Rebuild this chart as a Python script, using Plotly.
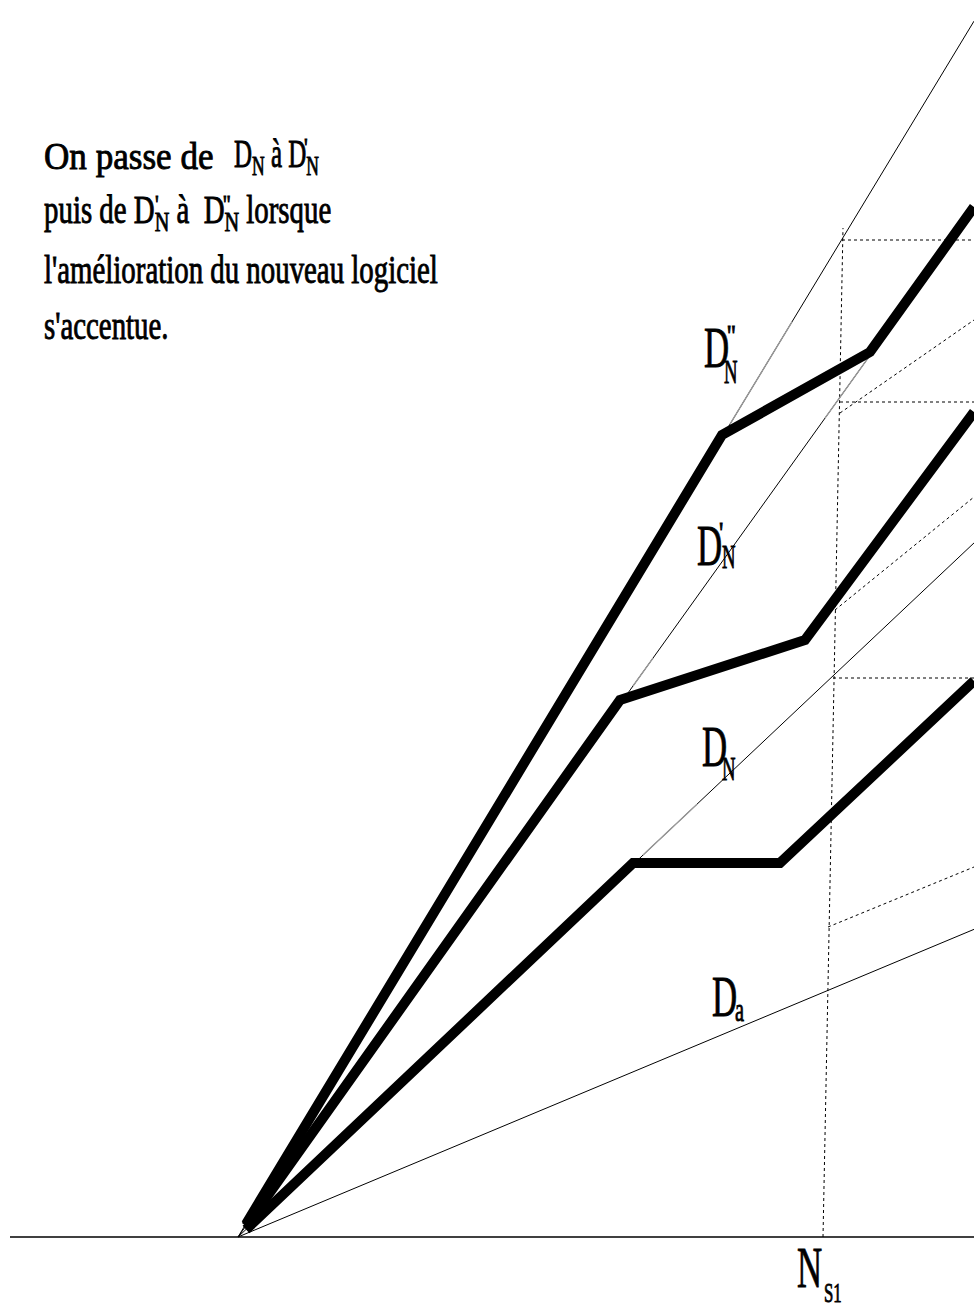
import json
import plotly.graph_objects as go

# Axis frame: origin O at the foot of the demand lines (x right, y up)
X_RANGE = [-238, 736]
Y_RANGE = [-67, 1237]

# Straight demand lines through the origin: name, slope, x where it stops
thin_names = ["Da", "DN", "DpN", "DppN"]
thin_slopes = [0.418, 0.943, 1.395, 1.652]
thin_x_end = [736, 736, 632, 736]
# lighter stretches along the thin lines (x from, x to)
grey_spans = {
    "DN": [(405, 459)],
    "DpN": [(395, 415), (587, 632)],
    "DppN": [(492, 554)],
}

# Kinked demand curves (thick): vertices
kinked_DN_x = [8, 395, 542, 736]
kinked_DN_y = [7.5, 374, 374, 556]
kinked_DpN_x = [8, 382, 567, 736]
kinked_DpN_y = [11, 537, 597, 825]
kinked_DppN_x = [8, 484, 632, 736]
kinked_DppN_y = [13, 802, 885, 1030]

# Dotted construction lines
ns1_x = [585, 605]
ns1_y = [0, 1009]
level_y = [997, 835, 559]
level_x_from = [604, 602, 595]
slant_x = [[602, 736], [597, 736], [590, 736]]
slant_y = [[824, 917], [627, 740], [310, 370]]

# Horizontal axis
axis_x = [-228, 736]

fig = go.Figure()


def seg(x, y, color="black", width=1.0, dash="solid"):
    fig.add_trace(go.Scatter(x=x, y=y, mode="lines", hoverinfo="skip",
                             line=dict(color=color, width=width, dash=dash)))


seg(axis_x, [0, 0], width=1.4)

# dotted guides
seg(ns1_x, ns1_y, width=1, dash="dot")
for yv, xf in zip(level_y, level_x_from):
    seg([xf, X_RANGE[1]], [yv, yv], width=1, dash="dot")
for xs, ys in zip(slant_x, slant_y):
    seg(xs, ys, width=1, dash="dot")

# thin straight demand lines
for name, k, xe in zip(thin_names, thin_slopes, thin_x_end):
    seg([0, xe], [0, k * xe], width=1)
    for a, b in grey_spans.get(name, []):
        seg([a, b], [k * a, k * b], color="#9a9a9a", width=1.4)

# thick kinked curves
for xs, ys in [(kinked_DN_x, kinked_DN_y),
               (kinked_DpN_x, kinked_DpN_y),
               (kinked_DppN_x, kinked_DppN_y)]:
    seg(xs, ys, width=10)

FONT = "Liberation Serif"
annotations = []
scales = []


def label(x, y, text, size, scale):
    annotations.append(dict(x=x, y=y, xref="x", yref="y", text=text,
                            showarrow=False, xanchor="left", yanchor="middle",
                            font=dict(family=FONT, size=size, color="black")))
    scales.append(scale)


# Curve labels
label(464, 890, "D", 58, 0.6)
label(487, 903, "''", 30, 0.8)
label(484, 866, "N", 34, 0.55)

label(457, 692, "D", 58, 0.6)
label(479, 706, "'", 30, 0.8)
label(482, 681, "N", 34, 0.55)

label(462, 491, "D", 58, 0.6)
label(482, 469, "N", 34, 0.55)

label(472, 241, "D", 58, 0.6)
label(495, 228, "a", 34, 0.6)

label(557, -30, "N", 58, 0.6)
label(584, -55, "S1", 28, 0.6)

# Explanatory text
label(-196, 1081, "On passe de", 39, 0.9)
label(-6, 1081, "D<sub>N</sub> à&nbsp;D<sub>N</sub>", 39, 0.64)
label(-196, 1025, "puis de D<sub>N</sub> à&nbsp;&nbsp;D<sub>N</sub> lorsque", 39, 0.74)
label(-196, 967, "l'amélioration du nouveau logiciel", 39, 0.74)
label(-196, 912, "s'accentue.", 39, 0.74)
label(64, 1090, "'", 26, 0.8)
label(-85, 1033, "'", 26, 0.8)
label(-17, 1033, "''", 26, 0.8)

fig.update_layout(
    width=974, height=1304,
    margin=dict(l=0, r=0, t=0, b=0),
    paper_bgcolor="white", plot_bgcolor="white",
    showlegend=False,
    xaxis=dict(range=X_RANGE, visible=False, fixedrange=True),
    yaxis=dict(range=Y_RANGE, visible=False, fixedrange=True),
    annotations=annotations,
)

# Narrow the serif glyphs horizontally (each text about its own left edge)
# and give them a slightly heavier stroke
post = (
    "var k=%s;"
    "document.querySelectorAll('g.annotation').forEach(function(g){"
    "var i=+g.getAttribute('data-index');var t=g.querySelector('text');"
    "if(!t)return;t.style.stroke='black';t.style.strokeWidth='0.9px';"
    "if(k[i]!==1){t.style.transformBox='fill-box';"
    "t.style.transformOrigin='0 0';t.style.transform='scaleX('+k[i]+')';}});"
) % json.dumps(scales)

fig.write_html("out.html", config={"displayModeBar": False}, post_script=post)
